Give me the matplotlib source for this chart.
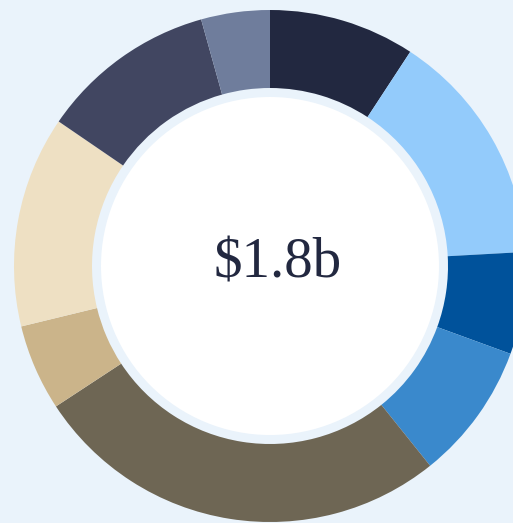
import matplotlib.pyplot as plt
from matplotlib.patches import Circle

# segment values in $m, clockwise from 12 o'clock
values = [166, 268, 116, 156, 477, 98, 240, 200, 78]
colors = ['#222840', '#93CBFB', '#00529B', '#3A89CC', '#6E6654',
          '#CBB48A', '#EEE0C3', '#414661', '#6F7D9C']
total_label = '$1.8b'

bg = '#EAF3FB'
W, H = 513, 523

fig = plt.figure(figsize=(W / 100, H / 100), dpi=100, facecolor=bg)
ax = fig.add_axes([0, 0, 1, 1])
ax.set_facecolor(bg)

cx, cy = 270, H - 266
ax.pie(values, colors=colors, startangle=90, counterclock=False,
       radius=256, center=(cx, cy),
       wedgeprops=dict(width=78, linewidth=0))
ax.add_patch(Circle((cx, cy), 169, facecolor='white', edgecolor='none', zorder=3))

ax.text(278, H - 277, total_label, ha='center', va='baseline', fontsize=41,
        family=['Liberation Serif', 'DejaVu Serif'], color='#222840', zorder=4)

ax.set_xlim(0, W)
ax.set_ylim(0, H)
ax.set_aspect('equal')
ax.axis('off')

fig.savefig('out.png', dpi=100, facecolor=bg)
